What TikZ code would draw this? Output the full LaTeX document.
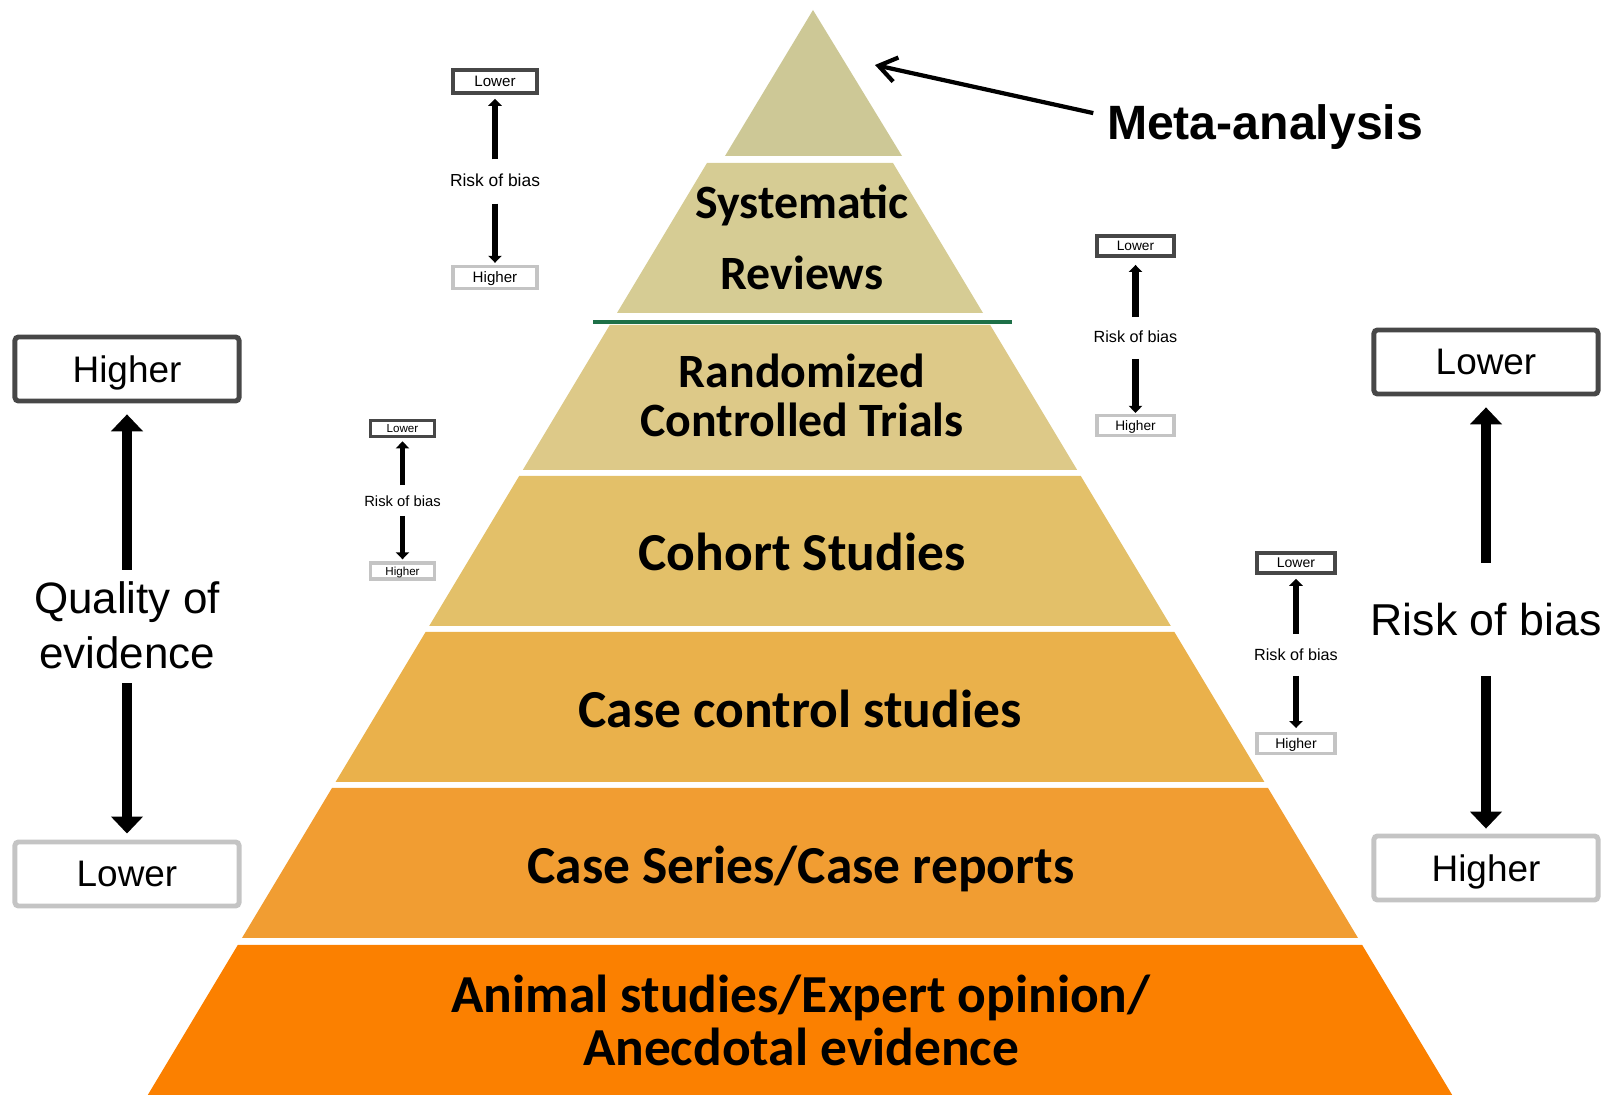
\documentclass[tikz,border=0pt]{standalone}
\usepackage{fontspec}
\setmainfont{Liberation Sans}
\newfontfamily\bandfont{Carlito}
\usetikzlibrary{arrows.meta}

\definecolor{apexc}{HTML}{CDC896}
\definecolor{sysc}{HTML}{D6CC94}
\definecolor{rctc}{HTML}{DDC988}
\definecolor{cohc}{HTML}{E3C069}
\definecolor{ccc}{HTML}{EAB14B}
\definecolor{csc}{HTML}{F19D32}
\definecolor{anic}{HTML}{FB8000}
\definecolor{splitc}{RGB}{30,112,72}
\definecolor{boxdark}{HTML}{474747}
\definecolor{boxlight}{HTML}{C4C4C4}

\tikzset{
  bandsm/.style={font=\bandfont\bfseries\fontsize{13.6}{14.2}\selectfont, align=center, anchor=base, inner sep=0pt},
  bandlg/.style={font=\bandfont\bfseries\fontsize{15.2}{15.1}\selectfont, align=center, anchor=base, inner sep=0pt},
  lab/.style={align=center, anchor=base, inner sep=0pt},
  topbox/.style={draw=boxdark, line width=1.4pt, rounded corners=1pt, minimum width=2.24cm, minimum height=0.64cm, inner sep=0pt, text depth=0pt, font=\fontsize{10.5}{12}\selectfont},
  botbox/.style={topbox, draw=boxlight},
  stopbox/.style={draw=boxdark, line width=1.1pt, minimum width=0.8cm, minimum height=0.21cm, inner sep=0pt, text depth=0pt, font=\fontsize{4.1}{5}\selectfont},
  sbotbox/.style={stopbox, draw=boxlight, line width=0.9pt},
  slab/.style={lab, font=\fontsize{4.6}{5}\selectfont},
  bigarrow/.style={line width=3.1pt, -{Triangle[length=4.8pt,width=8.8pt]}},
  sarrow/.style={line width=1.9pt, -{Triangle[length=2pt,width=3.8pt]}}
}

\begin{document}
\begin{tikzpicture}[x=0.01cm, y=-0.01cm]
  \useasboundingbox (0,0) rectangle (1608,1095);

  \fill[apexc] (813,10) -- (902,156) -- (725,156) -- cycle;
  \foreach \t/\b/\c in {163/313/sysc, 325/470/rctc, 476/626/cohc, 632/782/ccc, 788/938/csc, 945/1095/anic}
    \fill[\c] ({800-0.6*(\t-8)},\t) -- ({800+0.6*(\t-8)},\t) -- ({800+0.6*(\b-8)},\b) -- ({800-0.6*(\b-8)},\b) -- cycle;
  \draw[splitc, line width=1.4pt] (593,322) -- (1012,322);

  \node[bandsm] (sys) at (802,290) {Systematic\\[6pt]Reviews};
  \node[bandsm] (rct) at (802,437) {Randomized\\Controlled Trials};
  \node[bandlg] (coh) at (802,571) {Cohort Studies};
  \node[bandlg] (cc) at (800,728) {Case control studies};
  \node[bandlg] (cs) at (801,884) {Case Series/Case reports};
  \node[bandlg] (ani) at (801,1066) {Animal studies/Expert opinion/\\Anecdotal evidence};

  \node[font=\bfseries\fontsize{13.7}{16}\selectfont, anchor=base, inner sep=0pt] (meta) at (1265,140) {Meta-analysis};
  \coordinate (metatip) at (875,65);
  \draw[line width=1.2pt, -{Straight Barb[length=5pt,width=7pt]}] ([xshift=-3.7pt,yshift=4.1pt]meta.west) -- (metatip);

  \node[topbox] (qhi) at (127,369) {Higher};
  \node[lab, font=\fontsize{12.5}{15.9}\selectfont] (qual) at (127,669) {Quality of\\evidence};
  \node[botbox] (qlo) at (127,874) {Lower};
  \draw[bigarrow, shorten <=3.1pt, shorten >=3.1pt] (qual) -- (qhi);
  \draw[bigarrow, shorten <=3.7pt, shorten >=1.7pt] (qual) -- (qlo);

  \node[topbox] (rlo) at (1486,362) {Lower};
  \node[lab, font=\fontsize{12.7}{15}\selectfont] (rrisk) at (1486,636) {Risk of bias};
  \node[botbox] (rhi) at (1486,868) {Higher};
  \draw[bigarrow, shorten <=11.4pt, shorten >=3.1pt] (rrisk) -- (rlo);
  \draw[bigarrow, shorten <=11.1pt, shorten >=1.4pt] (rrisk) -- (rhi);

  \node[stopbox, minimum width=0.84cm, minimum height=0.23cm, font=\fontsize{4.3}{5}\selectfont] (alo) at (495,81.5) {Lower};
  \node[slab, font=\fontsize{4.95}{6}\selectfont] (arisk) at (495,187) {Risk of bias};
  \node[sbotbox, minimum width=0.84cm, minimum height=0.22cm, font=\fontsize{4.3}{5}\selectfont] (ahi) at (495,277.5) {Higher};
  \draw[sarrow, shorten <=4.1pt, shorten >=1.1pt] (arisk) -- (alo);
  \draw[sarrow, shorten <=4.5pt, shorten >=0.6pt] (arisk) -- (ahi);

  \node[stopbox, minimum width=0.77cm, minimum height=0.2cm, font=\fontsize{3.9}{5}\selectfont] (blo) at (1135.5,246) {Lower};
  \node[slab] (brisk) at (1135.5,343) {Risk of bias};
  \node[sbotbox, minimum width=0.77cm, minimum height=0.2cm, font=\fontsize{3.9}{5}\selectfont] (bhi) at (1135.5,425.5) {Higher};
  \draw[sarrow, shorten <=3.8pt, shorten >=2pt] (brisk) -- (blo);
  \draw[sarrow, shorten <=4.3pt, shorten >=0.3pt] (brisk) -- (bhi);

  \node[stopbox, minimum width=0.64cm, minimum height=0.16cm, font=\fontsize{3.3}{4}\selectfont] (clo) at (402.5,428.5) {Lower};
  \node[slab, font=\fontsize{4.2}{5}\selectfont] (crisk) at (402.5,507) {Risk of bias};
  \node[sbotbox, minimum width=0.64cm, minimum height=0.16cm, font=\fontsize{3.3}{4}\selectfont] (chi) at (402.5,571) {Higher};
  \draw[sarrow, line width=1.6pt, shorten <=3pt, shorten >=0.85pt] (crisk) -- (clo);
  \draw[sarrow, line width=1.6pt, shorten <=2.3pt, shorten >=0.6pt] (crisk) -- (chi);

  \node[stopbox, minimum width=0.78cm, minimum height=0.2cm, font=\fontsize{4}{5}\selectfont] (dlo) at (1296,563) {Lower};
  \node[slab] (drisk) at (1296,661) {Risk of bias};
  \node[sbotbox, minimum width=0.78cm, minimum height=0.2cm, font=\fontsize{4}{5}\selectfont] (dhi) at (1296,743.5) {Higher};
  \draw[sarrow, shorten <=4.1pt, shorten >=1.1pt] (drisk) -- (dlo);
  \draw[sarrow, shorten <=4pt, shorten >=1.1pt] (drisk) -- (dhi);
\end{tikzpicture}
\end{document}
